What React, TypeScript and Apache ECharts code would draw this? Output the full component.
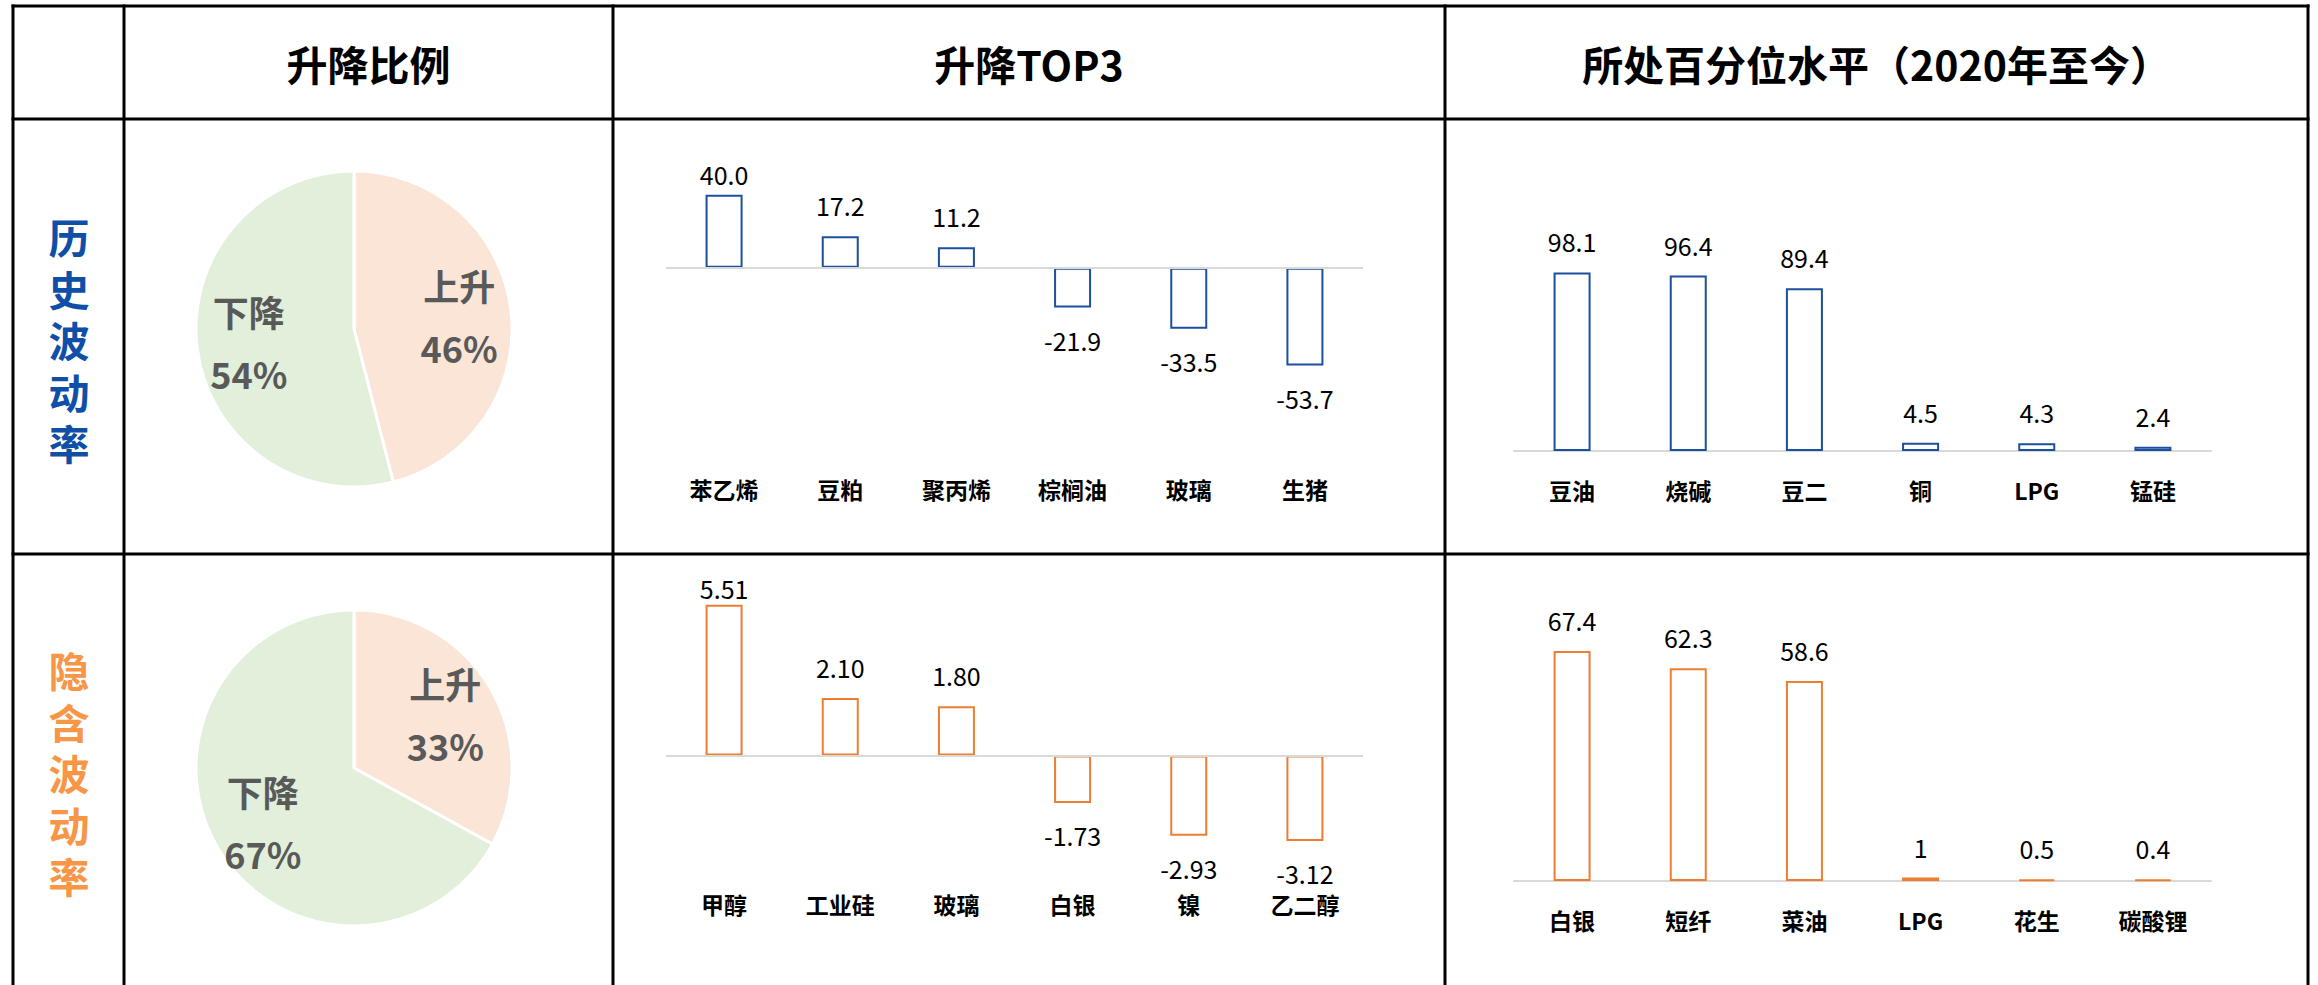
import React, { useEffect, useRef } from "react";
import * as echarts from "echarts";

// ---------- data ----------
const headerTexts = ["升降比例", "升降TOP3", "所处百分位水平（2020年至今）"];
const rowLabels = ["历史波动率", "隐含波动率"];

const pieCats = ["上升", "下降"];
const pieHist = [46, 54];
const pieImp = [33, 67];

const top3HistCats = ["苯乙烯", "豆粕", "聚丙烯", "棕榈油", "玻璃", "生猪"];
const top3HistVals = [40.0, 17.2, 11.2, -21.9, -33.5, -53.7];

const top3ImpCats = ["甲醇", "工业硅", "玻璃", "白银", "镍", "乙二醇"];
const top3ImpVals = [5.51, 2.1, 1.8, -1.73, -2.93, -3.12];

const pctHistCats = ["豆油", "烧碱", "豆二", "铜", "LPG", "锰硅"];
const pctHistVals = [98.1, 96.4, 89.4, 4.5, 4.3, 2.4];

const pctImpCats = ["白银", "短纤", "菜油", "LPG", "花生", "碳酸锂"];
const pctImpVals = [67.4, 62.3, 58.6, 1, 0.5, 0.4];

// ---------- style ----------
const FONT = "'Microsoft YaHei', 'Noto Sans CJK SC', 'Noto Sans', sans-serif";
const BLUE = "#1C4FA0";
const ORANGE = "#ED7D31";
const LABEL_BLUE = "#0F4FA8";
const LABEL_ORANGE = "#F79646";
const PIE_UP = "#FBE5D6";
const PIE_DOWN = "#E2EFDA";

type GridSpec = {
  left: number;
  width: number;
  top: number;
  height: number;
  min: number;
  max: number;
  margin: number;
  clampTop: number | null;
  zeroLine: boolean;
};

const grids: GridSpec[] = [
  { left: 666, width: 697, top: 162, height: 215, min: -60, max: 58, margin: 100, clampTop: 162, zeroLine: true },
  { left: 666, width: 697, top: 575, height: 290, min: -4, max: 6.6, margin: 27, clampTop: 576, zeroLine: true },
  { left: 1514, width: 697, top: 269, height: 182, min: 0, max: 100, margin: 27, clampTop: null, zeroLine: false },
  { left: 1514, width: 697, top: 642, height: 239, min: 0, max: 70, margin: 27, clampTop: null, zeroLine: false },
];

const fmt = (v: number, digits: number | null) => (digits === null ? String(v) : v.toFixed(digits));

function buildBar(idx: number, cats: string[], vals: number[], color: string, digits: number | null) {
  const g = grids[idx];
  const ppu = g.height / (g.max - g.min);
  const data = vals.map((v) => {
    if (v >= 0) {
      let d = 19;
      if (g.clampTop !== null) {
        const barTop = g.top + (g.max - v) * ppu;
        d = Math.min(19, barTop - g.clampTop - 24);
      }
      return { value: v, label: { position: "top", distance: d } };
    }
    return { value: v, label: { position: "bottom", distance: 20 } };
  });
  const series: any = {
    type: "bar",
    xAxisIndex: idx,
    yAxisIndex: idx,
    data,
    barWidth: 37,
    itemStyle: { color: "#ffffff", borderColor: color, borderWidth: 2 },
    label: {
      show: true,
      fontSize: 25,
      lineHeight: 24,
      fontFamily: FONT,
      color: "#000",
      formatter: (p: any) => fmt(p.value, digits),
    },
    emphasis: { disabled: true },
  };
  if (g.zeroLine) {
    series.markLine = {
      silent: true,
      symbol: "none",
      label: { show: false },
      lineStyle: { color: "#D9D9D9", width: 2, type: "solid" },
      data: [{ yAxis: 0 }],
    };
  }
  const xAxis = {
    type: "category",
    gridIndex: idx,
    data: cats,
    axisTick: { show: false },
    axisLine: { show: !g.zeroLine, onZero: false, lineStyle: { color: "#D9D9D9", width: 2 } },
    axisLabel: {
      interval: 0,
      margin: g.margin,
      fontSize: 23,
      lineHeight: 24,
      fontWeight: "bold",
      fontFamily: FONT,
      color: "#000",
    },
  };
  const yAxis = { type: "value", gridIndex: idx, min: g.min, max: g.max, show: false };
  const grid = { left: g.left, width: g.width, top: g.top, height: g.height, containLabel: false };
  return { series, xAxis, yAxis, grid };
}

function buildPie(center: [number, number], vals: number[]) {
  const data = pieCats.map((c, i) => ({
    name: c,
    value: vals[i],
    itemStyle: { color: i === 0 ? PIE_UP : PIE_DOWN },
  }));
  const base = {
    type: "pie",
    center,
    startAngle: 90,
    clockwise: true,
    animation: false,
    emphasis: { disabled: true },
  };
  return [
    {
      ...base,
      radius: [0, 158],
      data,
      itemStyle: { borderColor: "#fff", borderWidth: 3 },
      label: { show: false },
      labelLine: { show: false },
    },
    {
      ...base,
      radius: [48, 158],
      silent: true,
      data: data.map((d) => ({ name: d.name, value: d.value, itemStyle: { color: "rgba(0,0,0,0)" } })),
      itemStyle: { borderWidth: 0 },
      label: {
        show: true,
        position: "inside",
        formatter: "{b}\n{c}%",
        fontSize: 36,
        lineHeight: 62,
        fontWeight: "bold",
        fontFamily: FONT,
        color: "#595959",
      },
      labelLine: { show: false },
    },
  ];
}

function line(x1: number, y1: number, x2: number, y2: number) {
  return {
    type: "line",
    silent: true,
    shape: { x1, y1, x2, y2 },
    style: { stroke: "#000", lineWidth: 3 },
    z: 100,
  };
}

function text(x: number, y: number, t: string, size: number, color: string, lh?: number) {
  return {
    type: "text",
    x,
    y,
    silent: true,
    style: {
      text: t,
      fontSize: size,
      fontWeight: "bold",
      fontFamily: FONT,
      fill: color,
      lineHeight: lh,
      align: "center",
      verticalAlign: "middle",
      textAlign: "center",
      textVerticalAlign: "middle",
    },
    z: 100,
  };
}

export default function App() {
  const ref = useRef<HTMLDivElement>(null);
  useEffect(() => {
    if (!ref.current) return;
    const chart = echarts.init(ref.current, undefined, { renderer: "svg" });

    const bars = [
      buildBar(0, top3HistCats, top3HistVals, BLUE, 1),
      buildBar(1, top3ImpCats, top3ImpVals, ORANGE, 2),
      buildBar(2, pctHistCats, pctHistVals, BLUE, null),
      buildBar(3, pctImpCats, pctImpVals, ORANGE, null),
    ];

    const X = [13, 124, 613, 1445, 2308];
    const Y = [6, 119, 554];
    const graphic: any[] = [];
    Y.forEach((y) => graphic.push(line(11.5, y, 2309.5, y)));
    X.forEach((x) => graphic.push(line(x, 4.5, x, 990)));
    graphic.push(text((124 + 613) / 2, 62.5, headerTexts[0], 41, "#000"));
    graphic.push(text((613 + 1445) / 2, 62.5, headerTexts[1], 41, "#000"));
    graphic.push(text((1445 + 2308) / 2, 62.5, headerTexts[2], 41, "#000"));
    graphic.push(text(69, 339, rowLabels[0].split("").join("\n"), 41, LABEL_BLUE, 51.5));
    graphic.push(text(69, 772, rowLabels[1].split("").join("\n"), 41, LABEL_ORANGE, 51.5));

    chart.setOption({
      animation: false,
      backgroundColor: "#ffffff",
      grid: bars.map((b) => b.grid),
      xAxis: bars.map((b) => b.xAxis),
      yAxis: bars.map((b) => b.yAxis),
      series: [
        ...buildPie([354, 329], pieHist),
        ...buildPie([354, 768], pieImp),
        ...bars.map((b) => b.series),
      ],
      graphic,
    });
    return () => chart.dispose();
  }, []);
  return (
    <div
      ref={ref}
      style={{ position: "fixed", left: 0, top: 0, width: 2318, height: 985, background: "#fff" }}
    />
  );
}
